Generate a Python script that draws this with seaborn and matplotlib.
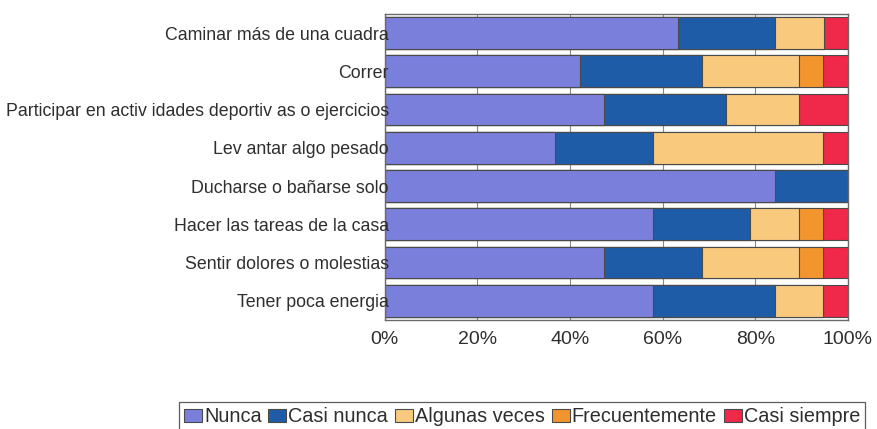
import matplotlib
matplotlib.use("Agg")
import matplotlib.pyplot as plt
from matplotlib.patches import Patch
import seaborn as sns
import pandas as pd
import numpy as np

categories = [
    "Caminar más de una cuadra",
    "Correr",
    "Participar en activ idades deportiv as o ejercicios",
    "Lev antar algo pesado",
    "Ducharse o bañarse solo",
    "Hacer las tareas de la casa",
    "Sentir dolores o molestias",
    "Tener poca energia",
]
series_names = ["Nunca", "Casi nunca", "Algunas veces", "Frecuentemente", "Casi siempre"]
nunca          = [63.2, 42.1, 47.4, 36.8, 84.2, 57.9, 47.4, 57.9]
casi_nunca     = [21.1, 26.3, 26.3, 21.1, 15.8, 21.0, 21.0, 26.3]
algunas_veces  = [10.5, 21.1, 15.8, 36.8,  0.0, 10.6, 21.1, 10.5]
frecuentemente = [ 0.0,  5.2,  0.0,  0.0,  0.0,  5.2,  5.2,  0.0]
casi_siempre   = [ 5.2,  5.3, 10.5,  5.3,  0.0,  5.3,  5.3,  5.3]
tick_labels = ["0%", "20%", "40%", "60%", "80%", "100%"]

colors = ["#7b7fdc", "#1f5ca8", "#f9ca7e", "#f3952f", "#f0284a"]

sns.set_style("white")
plt.rcParams["font.family"] = ["Liberation Sans", "DejaVu Sans"]

df = pd.DataFrame({"cat": categories, "Nunca": nunca, "Casi nunca": casi_nunca,
                   "Algunas veces": algunas_veces, "Frecuentemente": frecuentemente,
                   "Casi siempre": casi_siempre})
cum = df[series_names].cumsum(axis=1)

fig = plt.figure(figsize=(8.78, 4.29), dpi=100)
ax = fig.add_axes([0.4382, 0.2541, 0.5276, 0.7133])

for name, col in reversed(list(zip(series_names, colors))):
    sns.barplot(x=cum[name], y=df["cat"], orient="h", color=col, width=0.83,
                edgecolor="#4a4a4a", linewidth=0.8, ax=ax, saturation=1)

ax.set_xlim(0, 100)
ax.set_ylim(7.5, -0.5)
ax.set_xticks(np.arange(0, 101, 20))
ax.set_xticklabels(tick_labels)
ax.set_xlabel("")
ax.set_ylabel("")
ax.grid(axis="x", color="#8a8a8a", linewidth=0.8)
ax.set_axisbelow(True)
ax.yaxis.set_zorder(5)
for s in ax.spines.values():
    s.set_visible(True)
    s.set_color("#6a6a6a")
    s.set_linewidth(1.0)
ax.tick_params(axis="x", length=0, pad=8, labelsize=14, labelcolor="#2e2e2e")
ax.tick_params(axis="y", length=0, pad=-3, labelsize=12.8, labelcolor="#2e2e2e")

handles = [Patch(facecolor=c, edgecolor="#4a4a4a", linewidth=0.8) for c in colors]
leg = fig.legend(handles, series_names, loc="upper center", ncol=5,
                 bbox_to_anchor=(0.5945, 0.062), frameon=True, fancybox=False,
                 edgecolor="#333333", fontsize=14.3, handlelength=0.9, handleheight=0.62,
                 handletextpad=0.1, columnspacing=0.35, borderpad=0.25, borderaxespad=0)
leg.get_frame().set_linewidth(0.9)
for t in leg.get_texts():
    t.set_color("#2e2e2e")

fig.savefig("out.png", dpi=100)
